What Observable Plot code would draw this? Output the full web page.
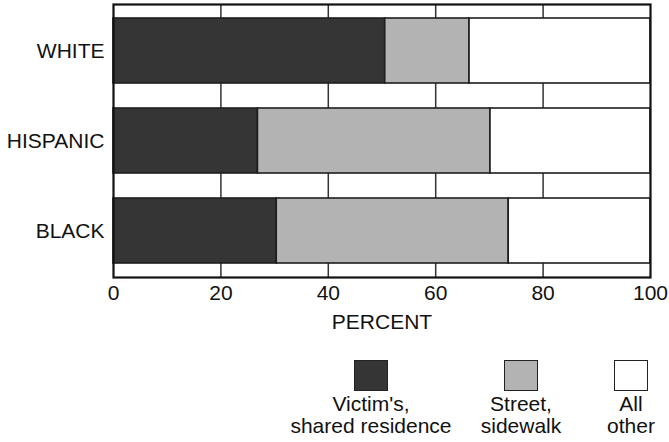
<!DOCTYPE html>
<html>
<head>
<meta charset="utf-8">
<script src="https://cdn.jsdelivr.net/npm/d3@7"></script>
<script src="https://cdn.jsdelivr.net/npm/@observablehq/plot@0.6"></script>
<style>
  html, body { margin: 0; padding: 0; background: #fff; }
  #chart { position: relative; width: 669px; height: 442px; font-family: "Liberation Sans", Arial, sans-serif; }
  #legend { position: relative; width: 669px; height: 102px; }
  .item { position: absolute; top: 20px; width: 220px; text-align: center; font-size: 21px; line-height: 22px; color: #111; }
  .swatch { width: 32px; height: 29px; margin: 0 auto 2px auto; border: 1.6px solid #222; }
</style>
</head>
<body>
<div id="chart"></div>
<script>
const races = ["WHITE", "HISPANIC", "BLACK"];
const categories = ["Victim's, shared residence", "Street, sidewalk", "All other"];
const legendLines = [["Victim's,", "shared residence"], ["Street,", "sidewalk"], ["All", "other"]];
const colors = ["#353535", "#b3b3b3", "#ffffff"];
const residence = [50.6, 26.9, 30.4];
const street = [15.7, 43.3, 43.2];
const allOther = [33.7, 29.8, 26.4];
const xTicks = [0, 20, 40, 60, 80, 100];
const gridTicks = [20, 40, 60, 80];
const legendCenters = [371, 521, 631];

const series = [residence, street, allOther];
const data = [];
races.forEach((r, i) => categories.forEach((c, j) => data.push({race: r, category: c, value: series[j][i]})));

const plot = Plot.plot({
  width: 669,
  height: 340,
  marginLeft: 113,
  marginRight: 19,
  marginTop: 4,
  marginBottom: 63,
  style: {fontFamily: "'Liberation Sans', Arial, sans-serif", fontSize: "21px", color: "#111", background: "#fff"},
  x: {domain: [0, 100], label: "PERCENT"},
  y: {domain: races, paddingInner: 0.28, paddingOuter: 0.155, label: null},
  color: {domain: categories, range: colors},
  marks: [
    Plot.gridX(gridTicks, {stroke: "#333", strokeOpacity: 1, strokeWidth: 1.5}),
    Plot.barX(data, Plot.stackX({x: "value", y: "race", fill: "category", order: categories, stroke: "#1e1e1e", strokeWidth: 1.6})),
    Plot.frame({stroke: "#111", strokeWidth: 2.2}),
    Plot.axisX({ticks: xTicks, tickSize: 0, tickPadding: 8, label: "PERCENT", labelArrow: "none", labelAnchor: "center", labelOffset: 51, fontSize: 21}),
    Plot.axisY({tickSize: 0, tickPadding: 9, label: null, fontSize: 21})
  ]
});
const chart = document.getElementById("chart");
chart.appendChild(plot);

const legend = document.createElement("div");
legend.id = "legend";
categories.forEach((c, j) => {
  const item = document.createElement("div");
  item.className = "item";
  item.style.left = (legendCenters[j] - 110) + "px";
  const sw = document.createElement("div");
  sw.className = "swatch";
  sw.style.background = colors[j];
  item.appendChild(sw);
  legendLines[j].forEach(t => { const d = document.createElement("div"); d.textContent = t; item.appendChild(d); });
  legend.appendChild(item);
});
chart.appendChild(legend);
</script>
</body>
</html>
